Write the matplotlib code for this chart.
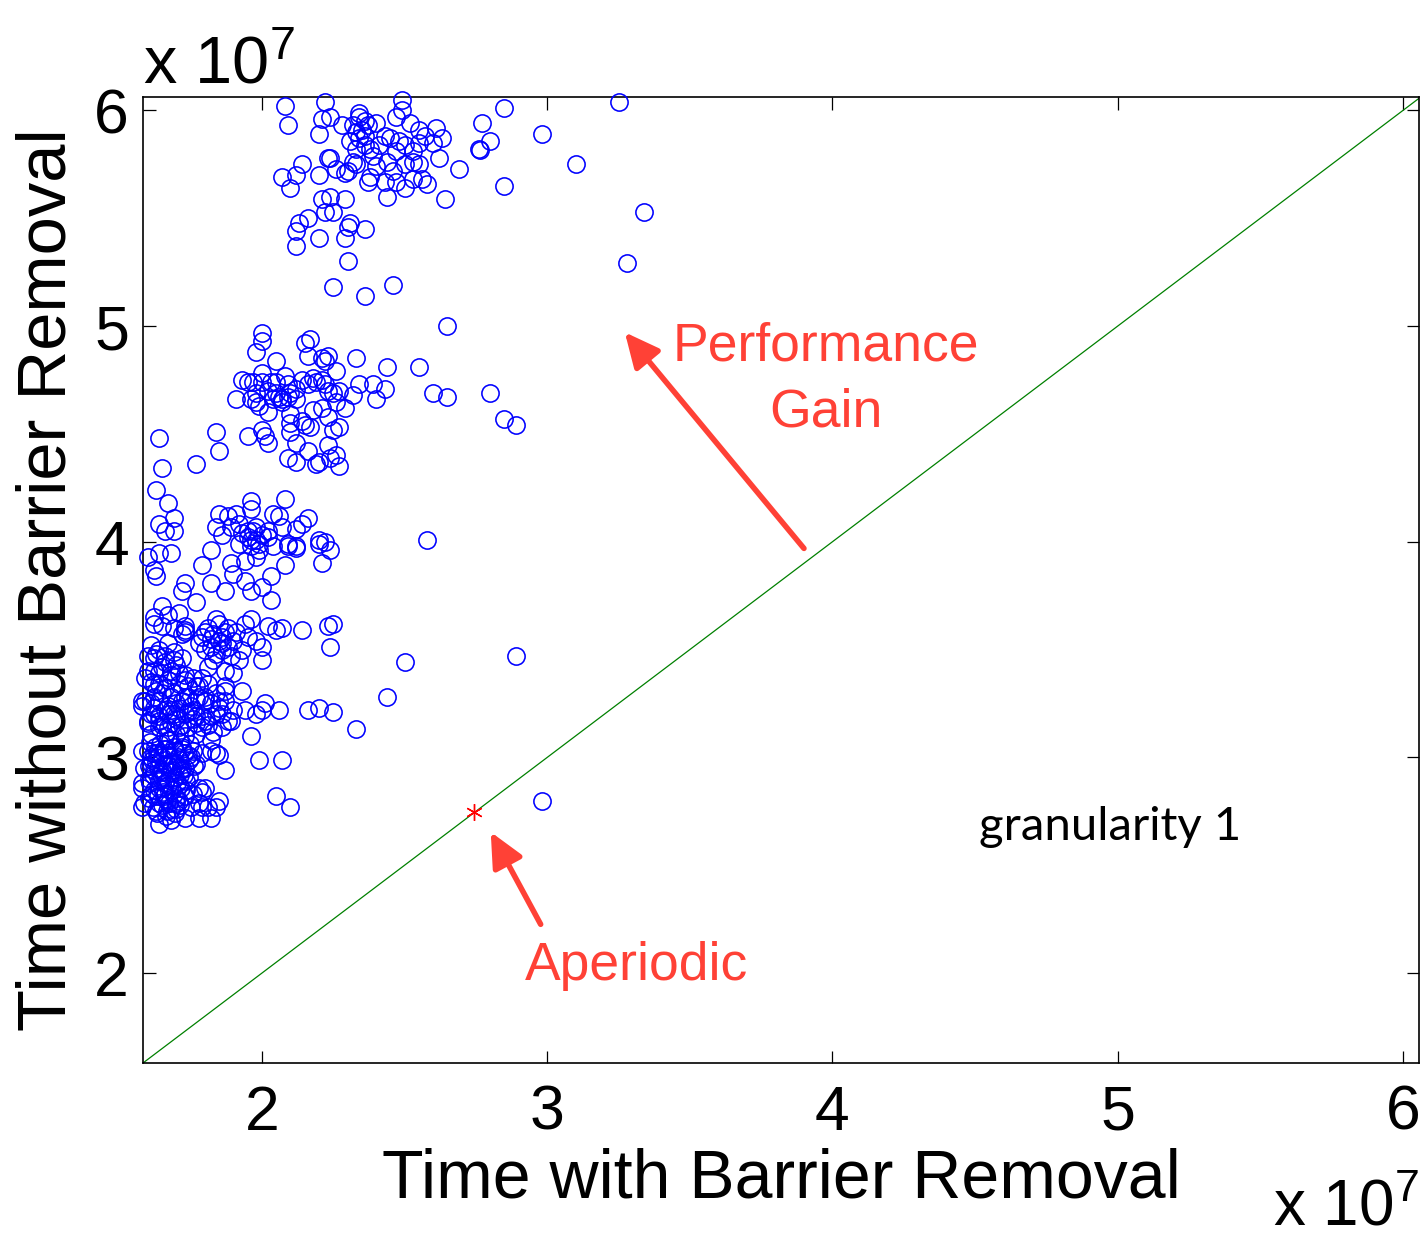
import matplotlib
matplotlib.use('Agg')
import matplotlib.pyplot as plt
import numpy as np

plt.rcParams['font.family'] = ['Liberation Sans', 'DejaVu Sans']
plt.rcParams['mathtext.default'] = 'regular'

# ---------------- data (units of 1e7) ----------------
top_x = [2.08, 2.22, 2.49, 2.85, 3.25, 2.09, 2.21, 2.24, 2.20, 2.28, 2.34, 2.34, 2.36, 2.37, 2.40,
         2.47, 2.49, 2.52, 2.55, 2.61, 2.57, 2.63, 2.60, 2.77, 2.80, 2.76, 2.765, 2.98, 3.10, 3.34,
         3.28, 2.85, 2.69, 2.62, 2.64, 2.32, 2.33, 2.36, 2.34, 2.31, 2.33, 2.36, 2.38, 2.41, 2.43,
         2.45, 2.48, 2.47, 2.50, 2.53, 2.55, 2.53, 2.55, 2.50, 2.44, 2.40, 2.38, 2.37, 2.43, 2.47,
         2.50, 2.53, 2.56, 2.58, 2.44, 2.32, 2.33, 2.30, 2.29, 2.26, 2.23, 2.24, 2.20, 2.14, 2.12,
         2.07, 2.10, 2.21, 2.24, 2.29, 2.22, 2.25, 2.16, 2.13, 2.12, 2.12, 2.20, 2.29, 2.30, 2.31,
         2.36, 2.30, 2.25, 2.36, 2.46, 2.39, 2.46, 2.35]
top_y = [6.02, 6.04, 6.05, 6.01, 6.04, 5.93, 5.96, 5.97, 5.89, 5.93, 5.99, 5.97, 5.95, 5.93, 5.94,
         5.97, 6.00, 5.94, 5.91, 5.92, 5.88, 5.87, 5.85, 5.94, 5.86, 5.82, 5.815, 5.89, 5.75, 5.53,
         5.29, 5.65, 5.73, 5.78, 5.59, 5.93, 5.90, 5.88, 5.87, 5.86, 5.82, 5.84, 5.82, 5.84, 5.88,
         5.87, 5.86, 5.81, 5.84, 5.81, 5.85, 5.76, 5.75, 5.75, 5.76, 5.74, 5.69, 5.67, 5.67, 5.67,
         5.64, 5.68, 5.68, 5.66, 5.60, 5.76, 5.75, 5.72, 5.71, 5.73, 5.78, 5.78, 5.70, 5.75, 5.70,
         5.69, 5.64, 5.59, 5.60, 5.59, 5.53, 5.53, 5.50, 5.48, 5.44, 5.37, 5.41, 5.41, 5.46, 5.48,
         5.45, 5.30, 5.18, 5.14, 5.19, 5.79, 5.72, 5.91]

mid_x = [2.65, 2.00, 2.00, 1.98, 2.05, 1.93, 1.91, 1.97, 2.00, 2.00, 1.96, 1.98, 1.99, 2.02, 2.04,
         2.06, 2.05, 2.08, 2.09, 2.09, 2.07, 2.10, 2.12, 2.14, 2.16, 2.18, 2.19, 2.21, 2.22, 2.23,
         2.25, 2.27, 2.12, 2.10, 2.10, 2.14, 2.15, 2.17, 2.18, 2.21, 2.23, 2.26, 2.29, 2.25, 2.27,
         2.26, 2.22, 2.23, 2.21, 2.16, 2.15, 2.17, 2.33, 2.34, 2.32, 2.39, 2.40, 2.43, 2.44, 2.55,
         2.60, 2.65, 2.80, 2.85, 2.89, 2.09, 2.12, 2.16, 2.19, 2.20, 2.23, 2.24, 2.26, 2.27, 2.10,
         2.12, 1.95, 1.98, 2.02, 2.05, 2.07, 2.03, 1.64, 1.65, 1.77, 1.84, 1.85, 1.95, 2.00, 2.01,
         2.02]
mid_y = [5.00, 4.97, 4.93, 4.88, 4.84, 4.75, 4.66, 4.74, 4.74, 4.78, 4.66, 4.65, 4.63, 4.60, 4.66,
         4.67, 4.74, 4.77, 4.73, 4.67, 4.65, 4.69, 4.71, 4.75, 4.73, 4.76, 4.74, 4.75, 4.73, 4.70,
         4.69, 4.70, 4.66, 4.59, 4.55, 4.56, 4.54, 4.53, 4.61, 4.62, 4.58, 4.65, 4.62, 4.52, 4.53,
         4.79, 4.84, 4.86, 4.85, 4.86, 4.92, 4.94, 4.85, 4.73, 4.68, 4.73, 4.66, 4.71, 4.81, 4.81,
         4.69, 4.67, 4.69, 4.57, 4.54, 4.39, 4.37, 4.42, 4.36, 4.37, 4.45, 4.39, 4.40, 4.35, 4.51,
         4.46, 4.74, 4.69, 4.70, 4.69, 4.66, 4.74, 4.48, 4.34, 4.36, 4.51, 4.42, 4.49, 4.52, 4.49,
         4.46]

four_x = [1.63, 1.67, 1.69, 1.64, 1.66, 1.69, 2.08, 1.96, 2.58, 1.85, 1.88, 1.91, 1.96, 2.04, 2.06,
          2.16, 1.84, 1.86, 1.89, 1.92, 1.95, 1.98, 2.02, 2.07, 2.12, 2.14, 2.20, 2.22, 2.24, 1.82,
          1.92, 1.96, 1.99, 2.04, 2.09, 2.12, 1.93, 1.95, 1.97, 1.98, 2.00, 2.02, 1.96, 1.99, 1.60,
          1.64, 1.68, 1.63, 1.62, 1.79, 1.82, 1.73, 1.72, 1.77, 1.87, 1.89, 1.94, 1.98, 1.90, 1.94,
          1.96, 2.00, 2.03, 2.03, 2.08, 2.12, 2.09, 2.21, 2.20]
four_y = [4.24, 4.18, 4.11, 4.08, 4.05, 4.05, 4.20, 4.19, 4.01, 4.13, 4.12, 4.13, 4.15, 4.13, 4.12,
          4.11, 4.07, 4.03, 4.07, 4.08, 4.05, 4.07, 4.05, 4.07, 4.06, 4.08, 4.01, 4.00, 3.96, 3.96,
          3.99, 4.01, 3.99, 3.98, 3.99, 3.98, 4.04, 4.02, 4.05, 4.01, 4.03, 4.02, 3.98, 3.96, 3.93,
          3.95, 3.95, 3.84, 3.87, 3.89, 3.81, 3.81, 3.77, 3.72, 3.77, 3.90, 3.91, 3.93, 3.85, 3.82,
          3.77, 3.79, 3.73, 3.84, 3.89, 3.97, 3.98, 3.90, 3.99]

band35_x = [1.65, 1.62, 1.67, 1.71, 1.73, 1.72, 1.62, 1.65, 1.69, 1.73, 1.73, 1.79, 1.81, 1.84, 1.85,
            1.87, 1.85, 1.82, 1.80, 1.78, 1.86, 1.88, 1.90, 1.93, 1.89, 1.83, 1.81, 1.87, 1.90, 1.92,
            1.94, 1.96, 2.02, 2.07, 2.00, 2.00, 1.98, 2.05, 2.14, 2.23, 2.25, 2.24, 1.61, 1.64, 1.67,
            1.69, 1.60, 1.62, 1.66, 1.69, 1.60, 1.62, 1.65, 1.68, 1.61, 1.64, 1.67, 1.71, 1.72, 1.64,
            1.71, 1.73, 1.76, 1.77, 1.62, 2.50, 2.89, 1.83, 1.86, 1.88, 1.84, 1.91, 1.95,
            1.63, 1.66, 1.70, 1.59, 1.68, 1.82, 1.86, 1.80]
band35_y = [3.70, 3.65, 3.66, 3.67, 3.59, 3.57, 3.62, 3.61, 3.60, 3.58, 3.61, 3.56, 3.60, 3.64, 3.62,
            3.58, 3.54, 3.51, 3.50, 3.53, 3.50, 3.51, 3.54, 3.50, 3.47, 3.45, 3.42, 3.40, 3.39, 3.45,
            3.62, 3.64, 3.61, 3.60, 3.51, 3.45, 3.54, 3.59, 3.59, 3.61, 3.62, 3.51, 3.52, 3.50, 3.53,
            3.49, 3.47, 3.46, 3.47, 3.45, 3.40, 3.40, 3.42, 3.40, 3.35, 3.34, 3.36, 3.34, 3.46, 3.39,
            3.39, 3.36, 3.37, 3.33, 3.34, 3.44, 3.47, 3.57, 3.56, 3.60, 3.48, 3.58, 3.56,
            3.48, 3.44, 3.43, 3.37, 3.38, 3.55, 3.53, 3.58]

band32_x = [1.73, 1.79, 1.74, 1.78, 1.81, 1.84, 1.73, 1.77, 1.80, 1.85, 1.87, 1.59, 1.62, 1.65, 1.68,
            1.72, 1.74, 1.78, 1.80, 1.82, 1.85, 1.87, 1.90, 1.94, 1.98, 2.01, 2.00, 2.06, 2.16, 2.20,
            2.25, 2.33, 1.96, 1.87, 1.93, 1.84, 1.80, 1.77, 1.73, 1.69, 1.66, 1.62, 1.60, 1.64, 1.67,
            1.71, 1.74, 1.79, 1.58, 1.58, 1.61, 1.64, 1.67, 1.70, 1.61, 1.64, 1.67, 1.70, 1.76, 1.79,
            1.82, 1.86, 1.89, 1.60, 1.65, 1.68, 1.72, 1.77, 1.81, 1.86, 1.88, 1.61, 1.66, 1.70, 1.73,
            1.77, 2.44,
            1.63, 1.66, 1.69, 1.71, 1.75, 1.62, 1.68, 1.74, 1.64, 1.70, 1.76, 1.83]
band32_y = [3.38, 3.37, 3.33, 3.33, 3.34, 3.30, 3.28, 3.27, 3.28, 3.26, 3.33, 3.26, 3.28, 3.30, 3.28,
            3.26, 3.28, 3.28, 3.26, 3.25, 3.23, 3.26, 3.22, 3.22, 3.20, 3.25, 3.22, 3.22, 3.22, 3.23,
            3.21, 3.13, 3.10, 3.31, 3.31, 3.20, 3.17, 3.19, 3.20, 3.20, 3.22, 3.20, 3.17, 3.14, 3.14,
            3.14, 3.14, 3.14, 3.24, 3.26, 3.25, 3.26, 3.24, 3.25, 3.20, 3.19, 3.20, 3.19, 3.22, 3.19,
            3.19, 3.20, 3.17, 3.16, 3.15, 3.16, 3.15, 3.16, 3.15, 3.14, 3.17, 3.11, 3.10, 3.11, 3.10,
            3.11, 3.28,
            3.31, 3.32, 3.30, 3.23, 3.24, 3.23, 3.22, 3.21, 3.17, 3.18, 3.18, 3.12]

low_x = [1.82, 1.84, 1.87, 1.99, 2.07, 2.05, 2.10, 1.85, 1.81, 1.78, 1.80, 1.75, 1.67, 1.72, 1.75,
         1.62, 1.58, 1.58, 1.58, 1.585, 1.82, 1.85, 1.79, 1.77, 1.76, 1.79, 1.78, 1.79, 1.84, 1.82,
         1.78, 1.73, 1.64, 1.68, 1.585, 1.58, 2.98,
         1.607, 1.642, 1.678, 1.713, 1.748,
         1.600, 1.632, 1.663, 1.695, 1.727, 1.758,
         1.614, 1.649, 1.681, 1.713, 1.744,
         1.603, 1.635, 1.667, 1.699, 1.730, 1.762,
         1.618, 1.649, 1.681, 1.713, 1.744,
         1.607, 1.639, 1.670, 1.702, 1.734,
         1.621, 1.653, 1.685, 1.716,
         1.603, 1.635, 1.667, 1.699, 1.730,
         1.618, 1.649, 1.681, 1.713,
         1.632, 1.663, 1.695,
         1.65, 1.69, 1.66, 1.70, 1.63, 1.72, 1.67, 1.69, 1.64, 1.71,
         1.625, 1.655, 1.690, 1.720, 1.610, 1.640, 1.675, 1.705, 1.740, 1.620, 1.650, 1.685,
         1.715, 1.605, 1.645, 1.660, 1.695, 1.725, 1.615, 1.655, 1.690, 1.675, 1.640, 1.700,
         1.735, 1.628, 1.668, 1.708, 1.612, 1.658]
low_y = [3.08, 3.02, 2.94, 2.99, 2.99, 2.82, 2.77, 2.80, 2.77, 2.86, 2.86, 2.77, 3.08, 3.05, 3.00,
         3.02, 3.03, 2.86, 2.77, 2.95, 3.03, 3.01, 3.02, 2.97, 2.83, 2.84, 2.79, 2.77, 2.77, 2.72,
         2.72, 2.72, 2.69, 2.71, 2.79, 2.88, 2.80,
         3.07, 3.06, 3.08, 3.07, 3.06,
         3.03, 3.02, 3.04, 3.03, 3.02, 3.03,
         2.99, 3.00, 2.98, 2.99, 2.99,
         2.96, 2.95, 2.97, 2.96, 2.95, 2.96,
         2.92, 2.91, 2.93, 2.92, 2.91,
         2.88, 2.89, 2.87, 2.88, 2.89,
         2.85, 2.84, 2.85, 2.86,
         2.81, 2.82, 2.80, 2.81, 2.82,
         2.77, 2.78, 2.76, 2.78,
         2.74, 2.73, 2.74,
         2.94, 2.90, 2.83, 2.79, 2.98, 2.95, 3.01, 2.97, 2.86, 2.87,
         3.05, 3.04, 3.05, 3.04, 3.00, 3.01, 3.01, 3.00, 3.01, 2.94, 2.93, 2.94,
         2.94, 2.90, 2.90, 2.88, 2.91, 2.92, 2.83, 2.82, 2.83, 2.79, 2.79, 2.76,
         2.85, 2.75, 2.75, 2.80, 2.97, 2.97]

aperiodic_x = [2.745]
aperiodic_y = [2.745]

axis_min, axis_max_x, axis_max_y = 1.583, 6.056, 6.062
ticks = [2, 3, 4, 5, 6]

# ---------------- figure ----------------
W, H = 1427, 1239
fig = plt.figure(figsize=(W / 100, H / 100), dpi=100)
L, R, T, B = 143, 1419, 97, 1063
ax = fig.add_axes([L / W, 1 - B / H, (R - L) / W, (B - T) / H])

blue = (0, 0, 1)
red_ann = '#FF4136'

ax.plot([axis_min, axis_max_x], [axis_min, axis_max_x], color=(0, 0.5, 0), lw=0.9, zorder=2)

all_x = top_x + mid_x + four_x + band35_x + band32_x + low_x
all_y = top_y + mid_y + four_y + band35_y + band32_y + low_y
ax.plot(all_x, all_y, ls='none', marker='o', mfc='none', mec=blue, ms=12.4, mew=1.15,
        clip_on=False, zorder=3)

ax.plot(aperiodic_x, aperiodic_y, ls='none', marker=(6, 2, 0), ms=12, mec='red', mew=1.0,
        zorder=4)

ax.set_xlim(axis_min, axis_max_x)
ax.set_ylim(axis_min, axis_max_y)
ax.set_xticks(ticks)
ax.set_yticks(ticks)
ax.set_xticklabels([str(t) for t in ticks])
ax.set_yticklabels([str(t) for t in ticks])
ax.tick_params(direction='in', length=9, width=0.9, top=True, right=True, labelsize=45,
               colors='black')
ax.tick_params(axis='x', pad=15)
ax.tick_params(axis='y', pad=10)
for s in ax.spines.values():
    s.set_linewidth(1.2)

ax.set_xlabel('Time with Barrier Removal', fontsize=49)
ax.set_ylabel('Time without Barrier Removal', fontsize=49.5)
ax.xaxis.set_label_coords(0.5, -(1148 - B) / (B - T))
ax.yaxis.set_label_coords((80 - L) / (R - L), 0.5)

# multiplier texts
fig.text(143 / W, 1 - 83 / H, 'x 10$^7$', fontsize=48, ha='left', va='baseline')
fig.text(1419 / W, 1 - 1226 / H, 'x 10$^7$', fontsize=46, ha='right', va='baseline')

# annotations
ax.annotate('', xy=(3.272, 4.971), xytext=(3.90, 3.969),
            arrowprops=dict(arrowstyle='-|>,head_length=0.95,head_width=0.45',
                            color=red_ann, lw=4, shrinkA=0, shrinkB=0, mutation_scale=22))
ax.text(3.977, 4.841, 'Performance', color=red_ann, fontsize=38.5, ha='center', va='baseline')
ax.text(3.977, 4.535, 'Gain', color=red_ann, fontsize=38.5, ha='center', va='baseline')

ax.annotate('', xy=(2.802, 2.654), xytext=(2.977, 2.226),
            arrowprops=dict(arrowstyle='-|>,head_length=0.95,head_width=0.45',
                            color=red_ann, lw=4, shrinkA=0, shrinkB=0, mutation_scale=22))
ax.text(3.314, 1.967, 'Aperiodic', color=red_ann, fontsize=38.5, ha='center', va='baseline')

ax.text(4.513, 2.616, 'granularity 1', color='black', fontsize=34, ha='left', va='baseline',
        family=['Lato', 'DejaVu Sans'])

fig.savefig('out.png', dpi=100)
